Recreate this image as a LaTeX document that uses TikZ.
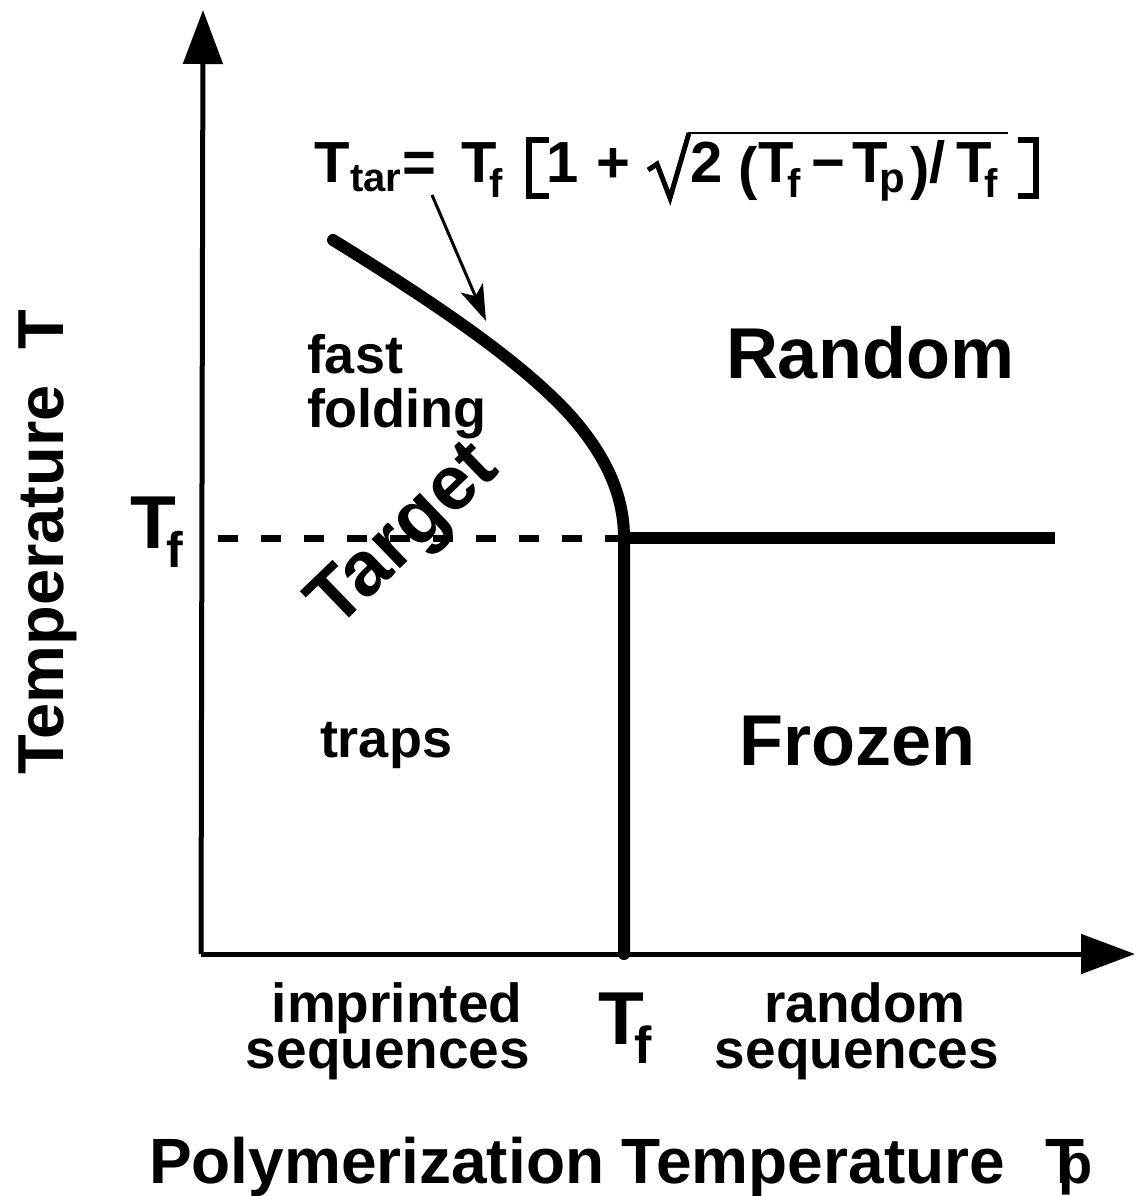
\documentclass[tikz,border=0pt]{standalone}
\usepackage{fontspec}
\setmainfont{Liberation Sans}
\usetikzlibrary{arrows.meta}
\newcommand{\fsz}[1]{\fontsize{#1}{#1}\selectfont\bfseries}
\begin{document}
\begin{tikzpicture}[x=1pt,y=-1pt,
  axisline/.style={line width=5pt,-{Triangle[length=54pt,width=39pt]}},
  boundary/.style={line width=12pt},
  tfdash/.style={line width=7pt,dash pattern=on 20pt off 23pt},
  bracket/.style={line width=6pt,line join=miter},
  lbl/.style={inner sep=0pt,outer sep=0pt,font=\fsz{#1}},
  lbl/.default=54]
\useasboundingbox (0,0) rectangle (1135,1196);
% coordinates
\coordinate (O) at (201,954);
\coordinate (ytop) at (203,10);
\coordinate (xend) at (1135,954);
\coordinate (Tf) at (624,538);
\coordinate (Tfend) at (1055,538);
\coordinate (Tfleft) at (218,538);
\coordinate (cstart) at (333,240);
\coordinate (cmid) at (570,415);
\coordinate (Tfbase) at (624,954);
% axes
\draw[axisline] (O) -- (ytop);
\draw[axisline] (O) -- (xend);
% dashed Tf line
\draw[tfdash] (Tfleft) -- (Tf);
% phase boundaries
\draw[boundary,line cap=round,line join=round] (cstart) .. controls (430,300) and (520,360) .. (cmid)
   .. controls (610,460) and (624,500) .. (Tf) -- (Tfbase);
\draw[boundary] (Tf) -- (Tfend);
% formula
\node[lbl=58,anchor=base west] (ft1) at (314,182) {T};
\node[lbl=40,anchor=base west] (ftar) at (350,191) {tar};
\node[lbl=58,anchor=base west] (feq) at (402,182) {=};
\node[lbl=58,anchor=base west] (ft2) at (461,182) {T};
\node[lbl=40,anchor=base west] (ff1) at (489,197) {f};
\draw[bracket] (549,140) -- (529,140) -- (529,196) -- (549,196);
\node[lbl=58,anchor=base west] (fone) at (546,182) {1};
\node[lbl=58,anchor=base west] (fplus) at (596,182) {+};
\draw[line width=5pt,line join=miter] (648,170) -- (657,164) -- (670,198) -- (689,133);
\draw[line width=1.5pt] (688,133) -- (1008,133);
\node[lbl=58,anchor=base west] (ftwo) at (690,182) {2};
\node[lbl=58,anchor=base west] (fpar1) at (738,188) {(};
\node[lbl=58,anchor=base west] (ft3) at (758,182) {T};
\node[lbl=40,anchor=base west] (ff2) at (787,197) {f};
\node[lbl=58,anchor=base west] (fminus) at (811,182) {\char"2212};
\node[lbl=58,anchor=base west] (ft4) at (852,182) {T};
\node[lbl=42,anchor=base west] (fp) at (879,192) {p};
\node[lbl=58,anchor=base west] (fpar2) at (910,188) {)};
\node[lbl=58,anchor=base west] (fslash) at (929,182) {/};
\node[lbl=58,anchor=base west] (ft5) at (956,182) {T};
\node[lbl=40,anchor=base west] (ff3) at (984,197) {f};
\draw[bracket] (1018,140) -- (1036,140) -- (1036,196) -- (1018,196);
% pointer arrow
\coordinate (arrfrom) at (432,195);
\coordinate (arrto) at (486,321);
\draw[line width=3pt,-{Stealth[length=36pt,width=24pt,inset=9pt]}] (arrfrom) -- (arrto);
% region labels
\node[lbl=72,anchor=base] (random) at (870,378) {Random};
\node[lbl=72,anchor=base] (frozen) at (857,765) {Frozen};
\node[lbl=54,anchor=base west] (fast) at (307,373) {fast};
\node[lbl=54,anchor=base west] (folding) at (307,427) {folding};
\node[lbl=54,anchor=base west] (traps) at (320,757) {traps};
\node[lbl=77,rotate=44] (target) at (406,538) {Target};
% axis labels
\node[lbl=65,rotate=90,anchor=base] (ylabel) at (63,542) {Temperature\ \ T};
\node[lbl=75,anchor=base west] (tfl) at (130,548) {T};
\node[lbl=50,anchor=base west] (tflf) at (166,567) {f};
\node[lbl=75,anchor=base west] (tfb) at (598,1044) {T};
\node[lbl=52,anchor=base west] (tfbf) at (634,1063) {f};
\node[lbl=55,anchor=base] (imp1) at (397,1022) {imprinted};
\node[lbl=55,anchor=base] (imp2) at (388,1068) {sequences};
\node[lbl=55,anchor=base] (rnd1) at (865,1022) {random};
\node[lbl=55,anchor=base] (rnd2) at (857,1068) {sequences};
\node[lbl=64,anchor=base west] (xlabel) at (149,1183) {Polymerization Temperature};
\node[lbl=64,anchor=base west] (xT) at (1045,1183) {T};
\node[lbl=56,anchor=base west] (xp) at (1058,1183) {p};
\end{tikzpicture}
\end{document}
